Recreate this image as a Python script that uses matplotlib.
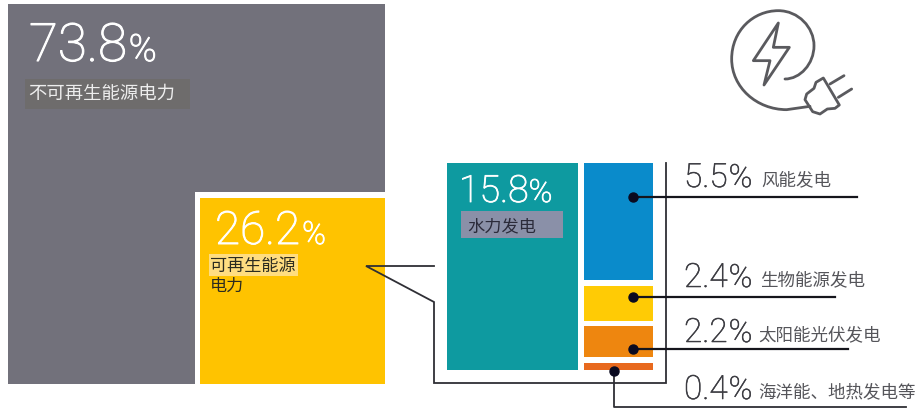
# Energy share treemap with callout lines, drawn on a pixel sized axes
import matplotlib
matplotlib.use("Agg")
import matplotlib.pyplot as plt
import matplotlib.patheffects as pe
from matplotlib.patches import PathPatch, Polygon, Rectangle
from matplotlib.path import Path

CJK = ['Noto Sans CJK SC', 'DejaVu Sans']
NUM = ['Roboto', 'DejaVu Sans']

# values as labelled
main_names = ['不可再生能源电力', '可再生能源\n电力']
main_values = [73.8, 26.2]
hydro_name = '水力发电'
hydro_value = 15.8
small_names = ['风能发电', '生物能源发电', '太阳能光伏发电', '海洋能、地热发电等']
small_values = [5.5, 2.4, 2.2, 0.4]
# block heights as drawn in the source, they do not follow the labels exactly
small_drawn = [117, 35, 31, 7]
small_colors = ['#0A8BCB', '#FFCB05', '#EE860F', '#E8691E']

GREY = '#72717B'
YELLOW = '#FFC300'
TEAL = '#0E9AA0'
LINE = '#2F2F35'
TEXT = '#55555A'

fig = plt.figure(figsize=(9.18, 4.10), dpi=100)
ax = fig.add_axes([0, 0, 1, 1])
ax.set_xlim(0, 918)
ax.set_ylim(410, 0)
ax.axis('off')


def block(x0, x1, y0, y1, color, zorder=1):
    ax.bar(x0, y1 - y0, width=x1 - x0, bottom=y0, align='edge', color=color, linewidth=0, zorder=zorder)


def pct(x, y, value, size, pct_size, color, gap=1, stroke=0.5):
    # number first, then the percent sign straight after its right edge
    fx = [pe.withStroke(linewidth=stroke, foreground=color)]
    t = ax.text(x, y, f'{value}', family=NUM, weight='light', fontsize=size, color=color, va='baseline', zorder=6, path_effects=fx)
    box = t.get_window_extent(fig.canvas.get_renderer())
    ax.text(box.x1 + gap, y, '%', family=NUM, weight='light', fontsize=pct_size, color=color, va='baseline', zorder=6, path_effects=fx)


def label(x, y, s, size=12.4, color=TEXT):
    ax.text(x, y, s, family=CJK, fontsize=size, color=color, va='center', ha='left', zorder=6)


# left square
block(8, 385, 5, 385, GREY)
block(195, 386, 193, 386, 'white', 2)
block(200, 385, 199, 385, YELLOW, 3)
ax.add_patch(Rectangle((25, 80), 165, 30, color='#6E6C6C', lw=0, zorder=4))
ax.add_patch(Rectangle((209, 255), 89, 22, color='#FFDD80', lw=0, zorder=4))
pct(29, 62, main_values[0], 38, 27, 'white', 2, 0.8)
label(28, 94, main_names[0], 13.2, '#EDEDED')
pct(215, 245, main_values[1], 33, 23, 'white', 2, 0.7)
first, second = main_names[1].split('\n')
label(210, 266, first, 12.3, '#2B2B20')
label(210, 286, second, 12.3, '#2B2B20')

# right block
block(447, 578, 164, 371, TEAL)
ax.add_patch(Rectangle((461, 212), 102, 27, color='#8A90A8', lw=0, zorder=4))
pct(459, 203, hydro_value, 27, 23, 'white', 0, 0.6)
label(467, 226, hydro_name, 12.4, '#2B2B3A')

# small column, each block followed by a 5.5 px gap
top = 164
gap = 5.5
scale = (207 - gap * 3) / sum(small_drawn)
for h, c in zip(small_drawn, small_colors):
    block(584, 653, top, top + h * scale, c)
    top += h * scale + gap

# callout frame
ax.plot([434, 366, 434, 434, 666, 666], [267, 267, 303, 384, 384, 164], color=LINE, lw=1.3, zorder=5, solid_joinstyle='miter')

# leader lines and labels
dot_y = [198, 298, 350]
line_end = [857, 835, 848]
for y, x1 in zip(dot_y, line_end):
    ax.plot([633, x1], [y, y], color='#15151C', lw=1.6, zorder=5)
    ax.plot([633], [y], 'o', color='#0A0A20', ms=6.5, zorder=6)
ax.plot([614, 614, 906], [372, 408, 408], color=LINE, lw=1.3, zorder=5)
ax.plot([614], [372], 'o', color='#0A0A20', ms=6.5, zorder=6)

baseline = [188, 288, 343, 400]
text_y = [180, 280, 335, 392]
text_x = [761, 760, 758, 758]
for v, name, b, ty, tx in zip(small_values, small_names, baseline, text_y, text_x):
    pct(684, b, v, 24, 23, '#3C3C42', 1, 0.4)
    label(tx, ty, name, 12.6)

# plug icon, path points in px
kw = dict(fill=False, ec='#5A5A5E', lw=2, zorder=5, capstyle='round', joinstyle='round')
ox, oy = 710, 0
P = lambda x, y: (ox + x / 3, oy + y / 3)
curve = [P(300, 322), P(230, 332), P(140, 332), P(65, 265), P(65, 180), P(65, 95), P(130, 35), P(205, 35),
         P(265, 35), P(312, 85), P(312, 140), P(312, 195), P(270, 240), P(225, 240)]
codes = [Path.MOVETO, Path.LINETO] + [Path.CURVE4] * 12
ax.add_patch(PathPatch(Path(curve, codes), **kw))
bolt = [P(205, 72), P(130, 185), P(180, 185), P(162, 258), P(238, 145), P(190, 145)]
ax.add_patch(Polygon(bolt, closed=True, **kw))
plug = [P(340, 237), P(318, 250), P(312, 268), P(290, 285), P(285, 302), P(308, 338), P(330, 345), P(352, 330), P(375, 328), P(388, 318)]
ax.add_patch(Polygon(plug, closed=True, **kw))
for a, b in [((360, 255), (402, 230)), ((385, 295), (425, 270))]:
    ax.plot(*zip(P(*a), P(*b)), color='#5A5A5E', lw=2, solid_capstyle='round', zorder=5)

fig.savefig('out.png', dpi=100, facecolor='white')
